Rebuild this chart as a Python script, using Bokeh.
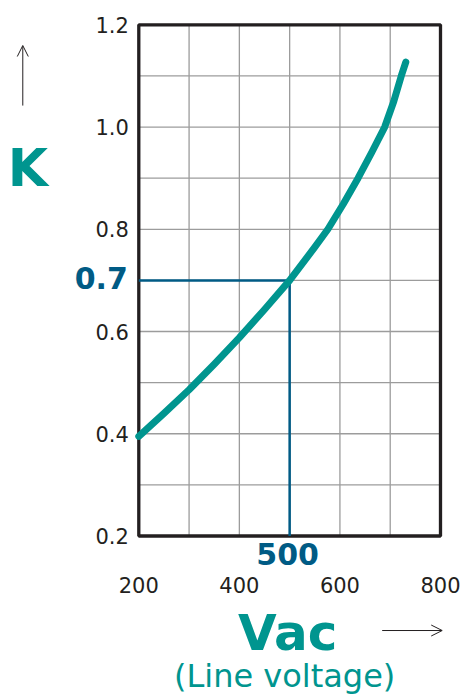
from bokeh.plotting import figure
from bokeh.models import Label, LabelSet, Arrow, OpenHead, Range1d, ColumnDataSource
from bokeh.core.properties import value
from bokeh.embed import file_html
from bokeh.resources import INLINE

# ---------------- data ----------------
vac = [200, 250, 300, 350, 400, 450, 500, 550, 576, 607, 636, 663, 689, 707, 722, 731]
k = [0.395, 0.44, 0.486, 0.536, 0.588, 0.643, 0.70, 0.765, 0.80, 0.85, 0.90, 0.95, 1.0, 1.05, 1.10, 1.127]
x_ticks = [200, 400, 600, 800]
x_tick_labels = ["200", "400", "600", "800"]
x_grid = [200, 300, 400, 500, 600, 700, 800]
y_ticks = [0.2, 0.4, 0.6, 0.8, 1.0, 1.2]
y_tick_labels = ["0.2", "0.4", "0.6", "0.8", "1.0", "1.2"]
y_grid = [0.2, 0.3, 0.4, 0.5, 0.6, 0.7, 0.8, 0.9, 1.0, 1.1, 1.2]
ref_v = 500
ref_k = 0.7

x_min, x_max = x_grid[0], x_grid[-1]
y_min, y_max = y_grid[0], y_grid[-1]

TEAL = "#00958f"
BLUE = "#005b85"
DARK = "#231f20"
GRID = "#9c9c9c"
FONT = "DejaVu Sans"

# plotting area: the chart frame sits inside a canvas-wide frame
p = figure(width=462, height=694, output_backend="svg", toolbar_location=None,
           x_axis_type=None, y_axis_type=None,
           x_range=Range1d(-75.04, 843.76), y_range=Range1d(-0.11005, 1.24754),
           min_border=0)
p.outline_line_color = None
p.background_fill_color = "white"
p.border_fill_color = "white"

# grid
p.segment(x0=x_grid, y0=[y_min] * len(x_grid), x1=x_grid, y1=[y_max] * len(x_grid),
          line_color=GRID, line_width=1.3)
p.segment(x0=[x_min] * len(y_grid), y0=y_grid, x1=[x_max] * len(y_grid), y1=y_grid,
          line_color=GRID, line_width=1.3)
# frame
p.quad(left=[x_min], right=[x_max], bottom=[y_min], top=[y_max],
       fill_color=None, line_color=DARK, line_width=3.3)

# reference lines
p.line([x_min, ref_v, ref_v], [ref_k, ref_k, y_min], line_color=BLUE, line_width=2.5)
# curve
p.line(vac, k, line_color=TEAL, line_width=7, line_cap="round", line_join="round")

# tick labels
xsrc = ColumnDataSource(dict(x=x_ticks, y=[y_min] * len(x_ticks), t=x_tick_labels))
p.add_layout(LabelSet(x="x", y="y", text="t", source=xsrc, text_font=value(FONT),
                      text_font_size="21px", text_color=DARK, text_align="center",
                      text_baseline="middle", y_offset=-49))
ysrc = ColumnDataSource(dict(x=[x_min] * len(y_ticks), y=y_ticks, t=y_tick_labels))
p.add_layout(LabelSet(x="x", y="y", text="t", source=ysrc, text_font=value(FONT),
                      text_font_size="21px", text_color=DARK, text_align="right",
                      text_baseline="middle", x_offset=-10))

# reference value labels
p.add_layout(Label(x=ref_v, y=y_min, text=str(ref_v), text_font=FONT, text_font_style="bold",
                   text_font_size="30px", text_color=BLUE, text_align="center",
                   text_baseline="middle", x_offset=-2, y_offset=-18))
p.add_layout(Label(x=x_min, y=ref_k, text=str(ref_k), text_font=FONT, text_font_style="bold",
                   text_font_size="30px", text_color=BLUE, text_align="right",
                   text_baseline="middle", x_offset=-11, y_offset=2))

# axis titles
p.add_layout(Label(x=x_min, y=1.0, text="K", text_font=FONT, text_font_style="bold",
                   text_font_size="52px", text_color=TEAL, text_align="center",
                   text_baseline="alphabetic", x_offset=-111, y_offset=-41))
p.add_layout(Label(x=ref_v, y=y_min, text="Vac", text_font=FONT, text_font_style="bold",
                   text_font_size="50px", text_color=TEAL, text_align="center",
                   text_baseline="alphabetic", x_offset=-2, y_offset=-97))
p.add_layout(Label(x=ref_v, y=y_min, text="(Line voltage)", text_font=FONT,
                   text_font_size="32px", text_color=TEAL, text_align="center",
                   text_baseline="alphabetic", x_offset=-5, y_offset=-140))

# arrows
p.add_layout(Arrow(end=OpenHead(size=11, line_width=1, line_color=DARK),
                   x_start=-30.7, y_start=1.042, x_end=-30.7, y_end=1.1595,
                   line_color=DARK, line_width=1))
p.add_layout(Arrow(end=OpenHead(size=11, line_width=1, line_color=DARK),
                   x_start=684, y_start=0.0151, x_end=803.4, y_end=0.0151,
                   line_color=DARK, line_width=1))

open("out.html", "w").write(file_html(p, INLINE))
